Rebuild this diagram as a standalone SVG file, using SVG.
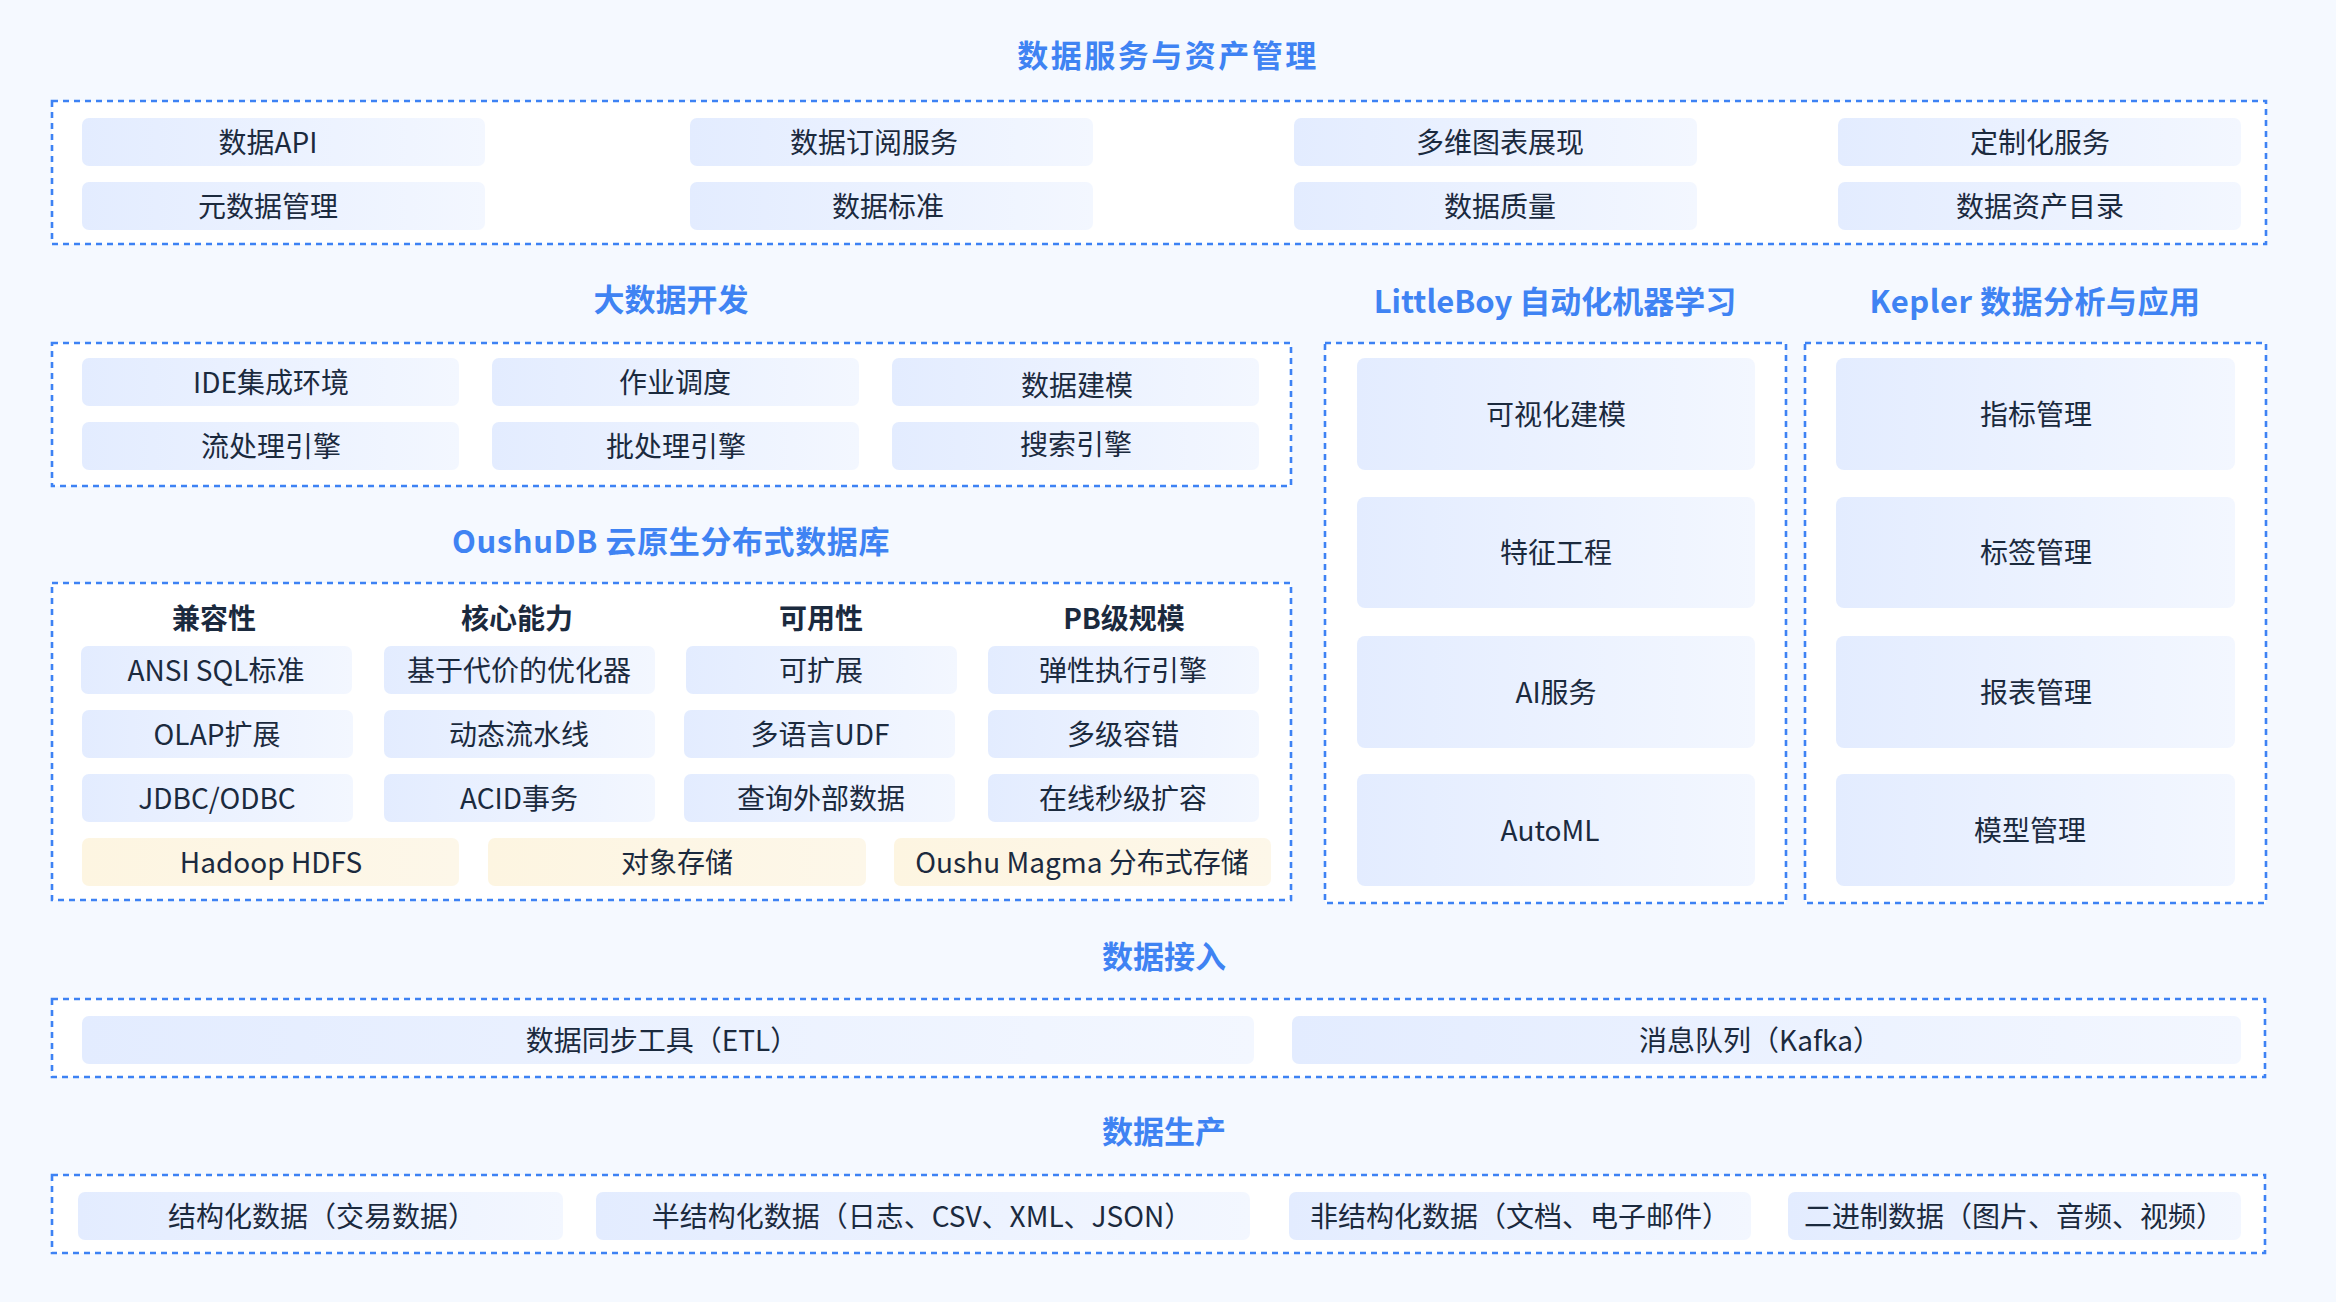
<svg xmlns="http://www.w3.org/2000/svg" width="2336" height="1302" viewBox="0 0 2336 1302">
<defs>
<linearGradient id="gb" x1="0" y1="0" x2="1" y2="0">
<stop offset="0" stop-color="#e3ecff"/>
<stop offset="1" stop-color="#f3f7ff"/>
</linearGradient>
<linearGradient id="gy" x1="0" y1="0" x2="1" y2="0">
<stop offset="0" stop-color="#fdf5e1"/>
<stop offset="1" stop-color="#fdf7e9"/>
</linearGradient>
<style>
.frame{fill:#ffffff;stroke:#3d82f4;stroke-width:2.6;stroke-dasharray:6 5}
.item{fill:url(#gb)}
.store{fill:url(#gy)}
text{font-family:"Noto Sans CJK SC","Noto Sans",sans-serif;text-anchor:middle;dominant-baseline:central}
.t{font-size:28px;fill:#1b2a3e}
.h{font-size:28px;font-weight:700;fill:#1b2a3e}
.title{font-size:31px;font-weight:700;fill:#3f83f3}
</style>
</defs>
<rect width="2336" height="1302" fill="#f5f9ff"/>

<g id="data-service">
<text class="title" x="1168" y="53" letter-spacing="2.5">数据服务与资产管理</text>
<rect class="frame" x="52" y="101" width="2214" height="143"/>
<g id="svc-api"><rect class="item" x="82" y="118" width="403" height="48" rx="7"/><text class="t" x="268" y="140.5">数据API</text></g>
<g id="svc-sub"><rect class="item" x="690" y="118" width="403" height="48" rx="7"/><text class="t" x="874" y="140.5">数据订阅服务</text></g>
<g id="svc-chart"><rect class="item" x="1294" y="118" width="403" height="48" rx="7"/><text class="t" x="1500" y="140.5">多维图表展现</text></g>
<g id="svc-custom"><rect class="item" x="1838" y="118" width="403" height="48" rx="7"/><text class="t" x="2040" y="140.5">定制化服务</text></g>
<g id="svc-meta"><rect class="item" x="82" y="182" width="403" height="48" rx="7"/><text class="t" x="268" y="204.5">元数据管理</text></g>
<g id="svc-std"><rect class="item" x="690" y="182" width="403" height="48" rx="7"/><text class="t" x="888" y="204.5">数据标准</text></g>
<g id="svc-quality"><rect class="item" x="1294" y="182" width="403" height="48" rx="7"/><text class="t" x="1500" y="204.5">数据质量</text></g>
<g id="svc-catalog"><rect class="item" x="1838" y="182" width="403" height="48" rx="7"/><text class="t" x="2040" y="204.5">数据资产目录</text></g>
</g>

<g id="bigdata-dev">
<text class="title" x="671" y="297">大数据开发</text>
<rect class="frame" x="52" y="343" width="1239" height="143"/>
<g id="dev-ide"><rect class="item" x="82" y="358" width="377" height="48" rx="7"/><text class="t" x="271" y="380.5">IDE集成环境</text></g>
<g id="dev-sched"><rect class="item" x="492" y="358" width="367" height="48" rx="7"/><text class="t" x="675" y="380.5">作业调度</text></g>
<g id="dev-model"><rect class="item" x="892" y="358" width="367" height="48" rx="7"/><text class="t" x="1077" y="383.5">数据建模</text></g>
<g id="dev-stream"><rect class="item" x="82" y="422" width="377" height="48" rx="7"/><text class="t" x="271" y="444.5">流处理引擎</text></g>
<g id="dev-batch"><rect class="item" x="492" y="422" width="367" height="48" rx="7"/><text class="t" x="676" y="444.5">批处理引擎</text></g>
<g id="dev-search"><rect class="item" x="892" y="422" width="367" height="48" rx="7"/><text class="t" x="1076" y="442.5">搜索引擎</text></g>
</g>

<g id="littleboy">
<text class="title" x="1555" y="299">LittleBoy 自动化机器学习</text>
<rect class="frame" x="1325" y="343" width="461" height="560"/>
<g id="lb-visual"><rect class="item" x="1357" y="358" width="398" height="112" rx="8"/><text class="t" x="1556" y="412.5">可视化建模</text></g>
<g id="lb-feature"><rect class="item" x="1357" y="497" width="398" height="111" rx="8"/><text class="t" x="1556" y="550.5">特征工程</text></g>
<g id="lb-ai"><rect class="item" x="1357" y="636" width="398" height="112" rx="8"/><text class="t" x="1556" y="690.5">AI服务</text></g>
<g id="lb-automl"><rect class="item" x="1357" y="774" width="398" height="112" rx="8"/><text class="t" x="1550" y="828.5">AutoML</text></g>
</g>

<g id="kepler">
<text class="title" x="2035" y="299" letter-spacing="0.5">Kepler 数据分析与应用</text>
<rect class="frame" x="1805" y="343" width="461" height="560"/>
<g id="kp-metric"><rect class="item" x="1836" y="358" width="399" height="112" rx="8"/><text class="t" x="2036" y="412.5">指标管理</text></g>
<g id="kp-tag"><rect class="item" x="1836" y="497" width="399" height="111" rx="8"/><text class="t" x="2036" y="550.5">标签管理</text></g>
<g id="kp-report"><rect class="item" x="1836" y="636" width="399" height="112" rx="8"/><text class="t" x="2036" y="690.5">报表管理</text></g>
<g id="kp-model"><rect class="item" x="1836" y="774" width="399" height="112" rx="8"/><text class="t" x="2030" y="828.5">模型管理</text></g>
</g>

<g id="oushudb">
<text class="title" x="671" y="539" letter-spacing="0.6">OushuDB 云原生分布式数据库</text>
<rect class="frame" x="52" y="583" width="1239" height="317"/>
<text class="h" x="214" y="616.5">兼容性</text>
<text class="h" x="517" y="616.5">核心能力</text>
<text class="h" x="821" y="616.5">可用性</text>
<text class="h" x="1124" y="616.5">PB级规模</text>
<g id="db-ansi"><rect class="item" x="81" y="646" width="271" height="48" rx="7"/><text class="t" x="216" y="668.5">ANSI SQL标准</text></g>
<g id="db-opt"><rect class="item" x="384" y="646" width="271" height="48" rx="7"/><text class="t" x="519" y="668.5">基于代价的优化器</text></g>
<g id="db-scale"><rect class="item" x="686" y="646" width="271" height="48" rx="7"/><text class="t" x="821" y="668.5">可扩展</text></g>
<g id="db-elastic"><rect class="item" x="988" y="646" width="271" height="48" rx="7"/><text class="t" x="1123" y="668.5">弹性执行引擎</text></g>
<g id="db-olap"><rect class="item" x="82" y="710" width="271" height="48" rx="7"/><text class="t" x="217" y="732.5">OLAP扩展</text></g>
<g id="db-pipe"><rect class="item" x="384" y="710" width="271" height="48" rx="7"/><text class="t" x="519" y="732.5">动态流水线</text></g>
<g id="db-udf"><rect class="item" x="684" y="710" width="271" height="48" rx="7"/><text class="t" x="820" y="732.5">多语言UDF</text></g>
<g id="db-fault"><rect class="item" x="988" y="710" width="271" height="48" rx="7"/><text class="t" x="1123" y="732.5">多级容错</text></g>
<g id="db-jdbc"><rect class="item" x="82" y="774" width="271" height="48" rx="7"/><text class="t" x="217" y="796.5">JDBC/ODBC</text></g>
<g id="db-acid"><rect class="item" x="384" y="774" width="271" height="48" rx="7"/><text class="t" x="519" y="796.5">ACID事务</text></g>
<g id="db-ext"><rect class="item" x="684" y="774" width="271" height="48" rx="7"/><text class="t" x="821" y="796.5">查询外部数据</text></g>
<g id="db-online"><rect class="item" x="988" y="774" width="271" height="48" rx="7"/><text class="t" x="1123" y="796.5">在线秒级扩容</text></g>
<g id="db-hdfs"><rect class="store" x="82" y="838" width="377" height="48" rx="7"/><text class="t" x="271" y="860.5">Hadoop HDFS</text></g>
<g id="db-obj"><rect class="store" x="488" y="838" width="378" height="48" rx="7"/><text class="t" x="677" y="860.5">对象存储</text></g>
<g id="db-magma"><rect class="store" x="894" y="838" width="377" height="48" rx="7"/><text class="t" x="1082" y="860.5">Oushu Magma 分布式存储</text></g>
</g>

<g id="data-ingest">
<text class="title" x="1164" y="954">数据接入</text>
<rect class="frame" x="52" y="999" width="2213" height="78"/>
<g id="in-etl"><rect class="item" x="82" y="1016" width="1172" height="48" rx="7"/><text class="t" x="662" y="1038.5">数据同步工具（ETL）</text></g>
<g id="in-kafka"><rect class="item" x="1292" y="1016" width="949" height="48" rx="7"/><text class="t" x="1760" y="1038.5">消息队列（Kafka）</text></g>
</g>

<g id="data-produce">
<text class="title" x="1164" y="1129">数据生产</text>
<rect class="frame" x="52" y="1175" width="2213" height="78"/>
<g id="pr-struct"><rect class="item" x="78" y="1192" width="485" height="48" rx="7"/><text class="t" x="322" y="1214.5">结构化数据（交易数据）</text></g>
<g id="pr-semi"><rect class="item" x="596" y="1192" width="654" height="48" rx="7"/><text class="t" x="922" y="1214.5">半结构化数据（日志、CSV、XML、JSON）</text></g>
<g id="pr-unstruct"><rect class="item" x="1289" y="1192" width="462" height="48" rx="7"/><text class="t" x="1520" y="1214.5">非结构化数据（文档、电子邮件）</text></g>
<g id="pr-binary"><rect class="item" x="1788" y="1192" width="453" height="48" rx="7"/><text class="t" x="2014" y="1214.5">二进制数据（图片、音频、视频）</text></g>
</g>

<g id="connectors"/>
</svg>
